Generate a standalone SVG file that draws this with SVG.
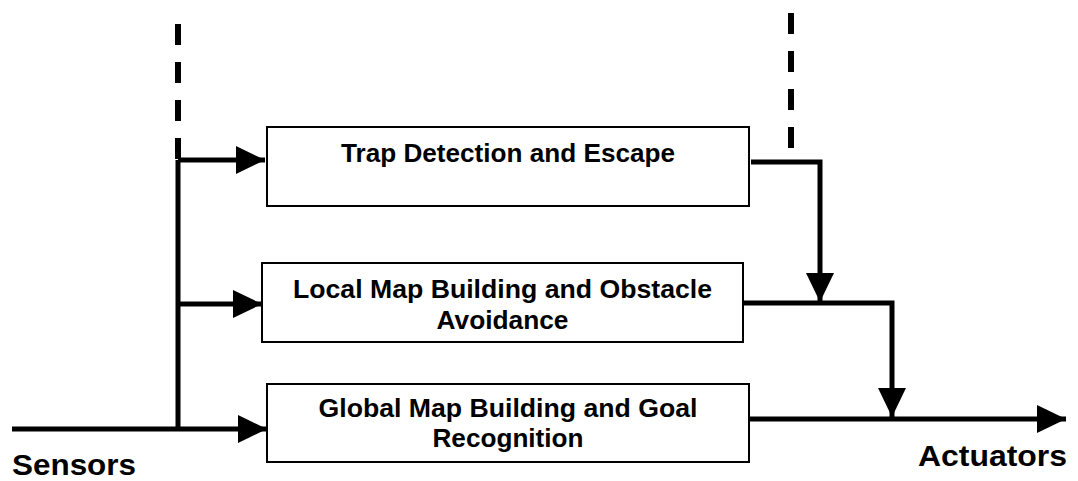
<svg xmlns="http://www.w3.org/2000/svg" width="1078" height="481" viewBox="0 0 1078 481">
<style>
.box{fill:#fff;stroke:#000;stroke-width:2}
.lbl{font-family:"Liberation Sans",Arial,sans-serif;font-weight:bold;font-size:25px;fill:#000;text-anchor:middle}
.big{font-family:"Liberation Sans",Arial,sans-serif;font-weight:bold;font-size:30px;fill:#000}
.ln{fill:none;stroke:#000;stroke-width:5}
.dash{fill:none;stroke:#000;stroke-width:6;stroke-dasharray:21 17}
</style>
<defs>
<marker id="ah" markerUnits="userSpaceOnUse" markerWidth="30" markerHeight="30" refX="29" refY="14" orient="auto" viewBox="0 0 30 30">
<path d="M0,0 L29,14 L0,28 z" fill="#000"/>
</marker>
</defs>
<g id="connectors">
<path class="dash" d="M178,24 V160"/>
<path class="dash" d="M791,13 V150"/>
<path class="ln" d="M178,160 V429"/>
<path class="ln" d="M178,160 H265" marker-end="url(#ah)"/>
<path class="ln" d="M178,304 H262" marker-end="url(#ah)"/>
<path class="ln" d="M12,429 H267" marker-end="url(#ah)"/>
<path class="ln" d="M751,162 H820 V302" marker-end="url(#ah)"/>
<path class="ln" d="M743,303 H892 V417" marker-end="url(#ah)"/>
<path class="ln" d="M749,419 H1066" marker-end="url(#ah)"/>
</g>
<g id="trap">
<rect class="box" x="267" y="127" width="482" height="79"/>
<text class="lbl" x="508" y="162" textLength="334" lengthAdjust="spacingAndGlyphs">Trap Detection and Escape</text>
</g>
<g id="local">
<rect class="box" x="262" y="263" width="481" height="79"/>
<text class="lbl" x="502.5" y="298" textLength="419" lengthAdjust="spacingAndGlyphs">Local Map Building and Obstacle</text>
<text class="lbl" x="502.5" y="329" textLength="132" lengthAdjust="spacingAndGlyphs">Avoidance</text>
</g>
<g id="global">
<rect class="box" x="267" y="384" width="482" height="78"/>
<text class="lbl" x="508" y="417" textLength="379" lengthAdjust="spacingAndGlyphs">Global Map Building and Goal</text>
<text class="lbl" x="508" y="447" textLength="151" lengthAdjust="spacingAndGlyphs">Recognition</text>
</g>
<g id="sensors">
<text class="big" x="12" y="475" textLength="124" lengthAdjust="spacingAndGlyphs">Sensors</text>
</g>
<g id="actuators">
<text class="big" x="918" y="466" textLength="149" lengthAdjust="spacingAndGlyphs">Actuators</text>
</g>
</svg>
